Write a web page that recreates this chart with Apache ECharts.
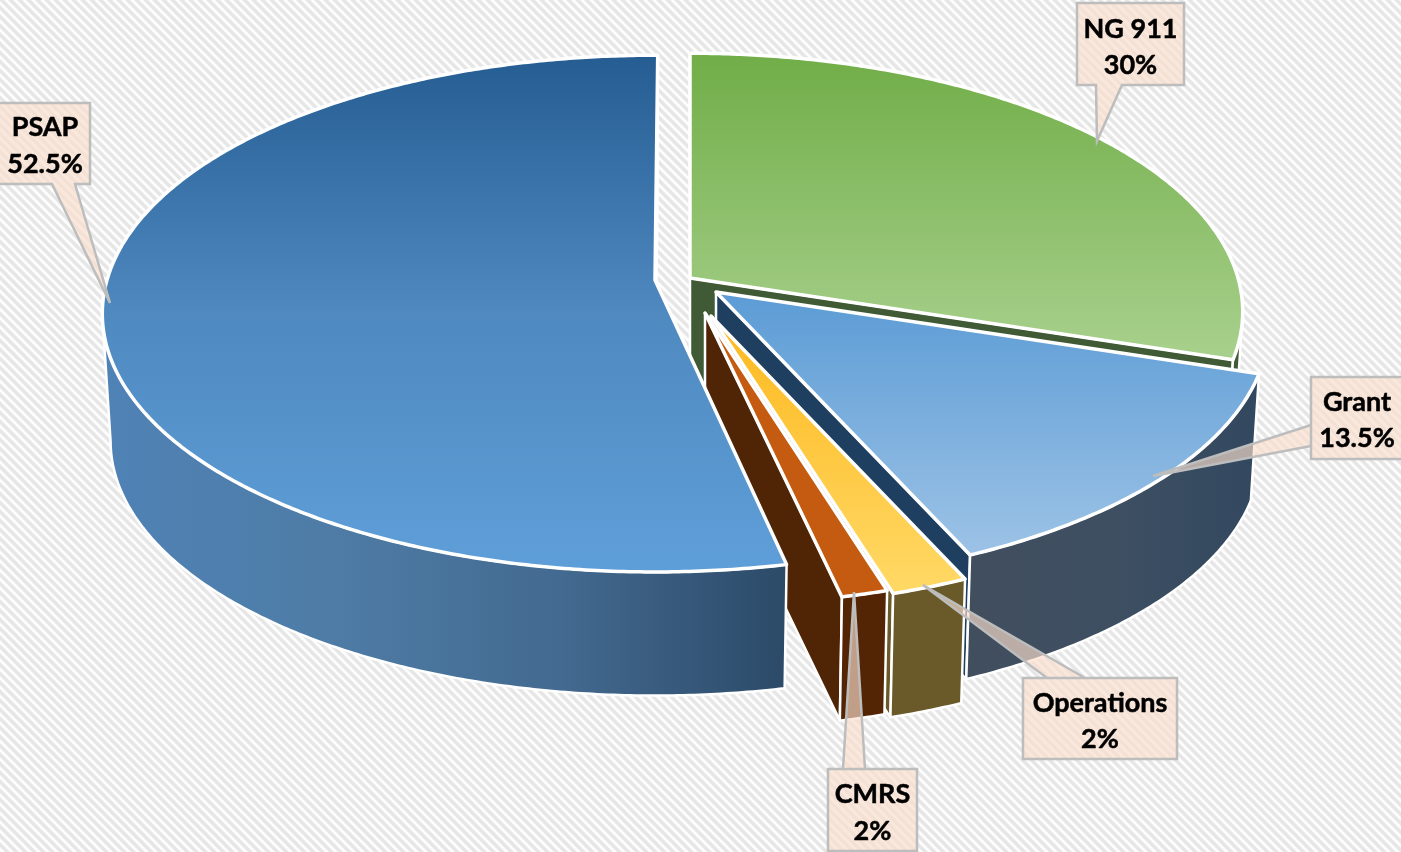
<!DOCTYPE html>
<html>
<head>
<meta charset="utf-8">
<title>Funding split</title>
<style>
  html, body { margin: 0; padding: 0; background: #f0f0f0; }
  #main { width: 1401px; height: 852px; }
</style>
<script src="https://cdn.jsdelivr.net/npm/echarts@6/dist/echarts.min.js"></script>
</head>
<body>
<div id="main"></div>
<script>
// clockwise from 12 o'clock
const categories = ['NG 911', 'Grant', 'Operations', 'CMRS', 'PSAP'];
// percentages as printed on the callouts
const printedPercents = ['30%', '13.5%', '2%', '2%', '52.5%'];
// slice sizes as they measure in the picture, the printed ones are rounded and do not quite fit the drawing
const sliceShares = [30, 13.3, 2, 1.2, 53.45];

// perspective ellipse of the pie
const RX = 548, RY = 254, TILT = 0.13, DEPTH = 128, BOTTOM_SCALE = 0.985;
// exploded apex of every slice, and the small extra rotation of the big one
const apexX = [690, 716, 711, 705, 655];
const apexY = [278, 292, 316, 313, 280];
const turn = [0, 0, 0, 0, 0.5];
// angles where the rim is widest, the wall outline leaves the rim there
const WALL_FROM = 97.5, WALL_TO = 262.5;

function vGrad(a, b, c) {
  const stops = [{ offset: 0, color: a }, { offset: 1, color: c || b }];
  if (c) stops.splice(1, 0, { offset: 0.5, color: b });
  return { type: 'linear', x: 0, y: 0, x2: 0, y2: 1, colorStops: stops };
}
function hGrad(list) {
  return {
    type: 'linear', x: 0, y: 0, x2: 1, y2: 0,
    colorStops: list.map(function (c, i) { return { offset: i / (list.length - 1), color: c }; })
  };
}
const topFill = [
  vGrad('#70ad47', '#a9d18e'),
  vGrad('#5b9bd5', '#9dc3e6'),
  vGrad('#fdb81e', '#ffd966'),
  vGrad('#c55a11', '#c55a11'),
  vGrad('#255d92', '#4f89c0', '#5f9fd9')
];
const wallFill = [
  '#3f5a34',
  hGrad(['#414e5e', '#3e4f62', '#32485f']),
  '#6a5a2a',
  '#532504',
  hGrad(['#4f82b6', '#4e7ca6', '#436a90', '#2c4a68'])
];
const faceFill = ['#3f5a34', '#1f3f60', '#6a5a2a', '#4f2505', '#255d92'];

// callout boxes: left, top, width, height, pointer base (two points) and tip
const callouts = [
  { box: [1077, 3, 107, 82], base: [[1122, 85], [1096, 85]], tip: [1097, 141], textY: [29, 65] },
  { box: [1311, 377, 92, 82], base: [[1311, 425], [1311, 446]], tip: [1153, 476], textY: [402, 438] },
  { box: [1023, 678, 154, 81], base: [[1085, 678], [1047, 678]], tip: [923, 585], textY: [703, 739] },
  { box: [828, 769, 89, 82], base: [[865, 769], [843, 769]], tip: [854, 592], textY: [794, 831] },
  { box: [-3, 103, 93, 81], base: [[75, 184], [52, 184]], tip: [110, 303], textY: [127, 164] }
];

function rim(i, deg, lower) {
  const t = deg * Math.PI / 180;
  const u = Math.sin(t), v = Math.cos(t), d = 1 + TILT * v;
  let x = RX * u / d, y = -RY * v / d;
  if (lower) { x *= BOTTOM_SCALE; y = y * BOTTOM_SCALE + DEPTH; }
  return [apexX[i] + x, apexY[i] + y];
}
function arc(i, from, to, lower) {
  const pts = [];
  const n = Math.ceil(Math.abs(to - from)) * 2;
  for (let k = 0; k <= n; k++) pts.push(rim(i, from + (to - from) * k / n, lower));
  return pts;
}

// start and end angle of every slice
const rows = [];
let acc = 0;
sliceShares.forEach(function (s, i) {
  rows.push([i, acc * 3.6 + turn[i], (acc + s) * 3.6 + turn[i]]);
  acc += s;
});

function poly(points, fill, lineWidth) {
  return {
    type: 'polygon',
    shape: { points: points },
    style: { fill: fill, stroke: '#fff', lineWidth: lineWidth, lineJoin: 'round' }
  };
}

function renderSlice(params, api) {
  const i = api.value(0), a = api.value(1), b = api.value(2);
  const apex = [apexX[i], apexY[i]];
  const apexLow = [apexX[i], apexY[i] + DEPTH];
  const wallA = Math.max(a, WALL_FROM), wallB = Math.min(b, WALL_TO);
  const children = [];
  // cut face on the clockwise side, the last slice hides it anyway
  children.push(poly([apex, rim(i, b, false), rim(i, b, true), apexLow], faceFill[i], 2.5));
  // outer wall
  if (wallB > wallA) {
    children.push(poly(arc(i, wallA, wallB, false).concat(arc(i, wallB, wallA, true)), wallFill[i], 2.5));
  }
  // top
  children.push(poly([apex].concat(arc(i, a, b, false)), topFill[i], 3.5));
  return { type: 'group', children: children };
}

function renderCallout(params, api) {
  const i = api.value(0);
  const c = callouts[i];
  const x = c.box[0], y = c.box[1], w = c.box[2], h = c.box[3];
  const corners = [[x, y], [x + w, y], [x + w, y + h], [x, y + h]];
  // walk the box and put the pointer into the side it leaves from
  let side = 0;
  if (c.base[0][1] === y + h) side = 2;
  else if (c.base[0][0] === x) side = 3;
  const pts = [];
  corners.forEach(function (p, k) {
    pts.push(p);
    if (k === side) { pts.push(c.base[0], c.tip, c.base[1]); }
  });
  const cx = Math.max(x, 0) + (x + w - Math.max(x, 0)) / 2;
  const children = [{
    type: 'polygon',
    shape: { points: pts },
    style: { fill: 'rgba(251,222,203,0.66)', stroke: '#bdbdbd', lineWidth: 2.5, lineJoin: 'miter' }
  }];
  [categories[i], printedPercents[i]].forEach(function (t, k) {
    children.push({
      type: 'text',
      style: {
        text: t, x: cx, y: c.textY[k],
        align: 'center', verticalAlign: 'middle',
        fontFamily: 'Lato', fontWeight: 'bold', fontSize: 27, fill: '#000',
        stroke: '#000', lineWidth: 0.5
      }
    });
  });
  return { type: 'group', children: children };
}

// light diagonal weave of the slide background
function weave() {
  const size = 9;
  const cv = document.createElement('canvas');
  cv.width = size; cv.height = size;
  const ctx = cv.getContext('2d');
  for (let y = 0; y < size; y++) {
    for (let x = 0; x < size; x++) {
      const m = (x - y + size) % size;
      ctx.fillStyle = m < 4 ? '#e6e6e6' : (m === 4 || m === 8 ? '#f2f2f2' : '#fdfdfd');
      ctx.fillRect(x, y, 1, 1);
    }
  }
  return cv;
}

const myChart = echarts.init(document.getElementById('main'));
myChart.setOption({
  animation: false,
  backgroundColor: { image: weave(), repeat: 'repeat' },
  series: [
    {
      type: 'custom',
      coordinateSystem: 'none',
      silent: true,
      renderItem: renderSlice,
      data: rows,
      z: 2
    },
    {
      type: 'custom',
      coordinateSystem: 'none',
      silent: true,
      renderItem: renderCallout,
      data: categories.map(function (c, i) { return [i]; }),
      z: 3
    }
  ]
});
</script>
</body>
</html>
